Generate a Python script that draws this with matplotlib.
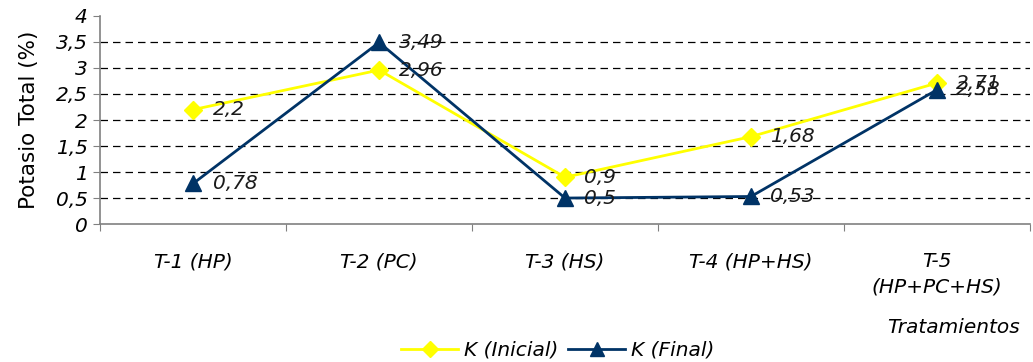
import matplotlib
matplotlib.use("Agg")
import matplotlib.pyplot as plt
from matplotlib.lines import Line2D

categories = ["T-1 (HP)", "T-2 (PC)", "T-3 (HS)", "T-4 (HP+HS)", "T-5\n(HP+PC+HS)"]
k_inicial = [2.2, 2.96, 0.9, 1.68, 2.71]
k_final = [0.78, 3.49, 0.5, 0.53, 2.58]
yticks = [0, 0.5, 1, 1.5, 2, 2.5, 3, 3.5, 4]

YELLOW = "#FFFF00"
NAVY = "#003366"
FS = 14.5

plt.rcParams["font.family"] = ["DejaVu Sans"]

fig = plt.figure(figsize=(10.33, 3.62), dpi=100)
ax = fig.add_axes([0.097, 0.381, 0.900, 0.575])

x = list(range(len(categories)))

for yv in yticks[1:-1]:
    ax.axhline(yv, color="black", lw=0.9, dashes=(6, 4), zorder=1)

ax.plot(x, k_inicial, color=YELLOW, lw=2, marker="D", ms=9, mec=YELLOW, mfc=YELLOW, zorder=3)
ax.plot(x, k_final, color=NAVY, lw=2, marker="^", ms=11, mec=NAVY, mfc=NAVY, zorder=4)

def fmt(v):
    return ("%g" % v).replace(".", ",")

for xi, v in zip(x, k_inicial):
    ax.annotate(fmt(v), (xi, v), xytext=(14, 0), textcoords="offset points",
                va="center", ha="left", fontsize=FS, style="italic", color="#1a1a1a", zorder=5)
for xi, v in zip(x, k_final):
    ax.annotate(fmt(v), (xi, v), xytext=(14, 0), textcoords="offset points",
                va="center", ha="left", fontsize=FS, style="italic", color="#1a1a1a", zorder=5)

ax.set_xlim(-0.5, len(categories) - 0.5)
ax.set_ylim(0, 4)
ax.set_yticks(yticks)
ax.set_yticklabels([fmt(v) for v in yticks], fontsize=FS, style="italic")

ax.set_xticks([i + 0.5 for i in range(-1, len(categories) - 1)] + [len(categories) - 0.5])
ax.set_xticklabels([])
for xi, lab in zip(x, categories):
    ax.text(xi, -0.135, lab, transform=ax.get_xaxis_transform(), ha="center", va="top",
            fontsize=FS, style="italic", linespacing=1.4)

ax.tick_params(axis="y", length=5, color="#808080", pad=4)
ax.tick_params(axis="x", length=5, color="#808080", direction="out")

for side in ["top", "right"]:
    ax.spines[side].set_visible(False)
for side in ["left", "bottom"]:
    ax.spines[side].set_color("#808080")
    ax.spines[side].set_linewidth(1.2)

ax.set_ylabel("Potasio Total (%)", fontsize=15.5, labelpad=12)

fig.text(0.987, 0.095, "Tratamientos", ha="right", va="center", fontsize=FS, style="italic")

handles = [
    Line2D([0], [0], color=YELLOW, lw=2, marker="D", ms=8, mfc=YELLOW, mec=YELLOW),
    Line2D([0], [0], color=NAVY, lw=2, marker="^", ms=10, mfc=NAVY, mec=NAVY),
]
leg = fig.legend(handles, ["K (Inicial)", "K (Final)"], loc="center", bbox_to_anchor=(0.54, 0.033),
                 ncol=2, frameon=False, prop={"size": FS, "style": "italic"},
                 handlelength=2.8, handletextpad=0.3, columnspacing=0.5, borderpad=0)

fig.savefig("out.png", dpi=100)
